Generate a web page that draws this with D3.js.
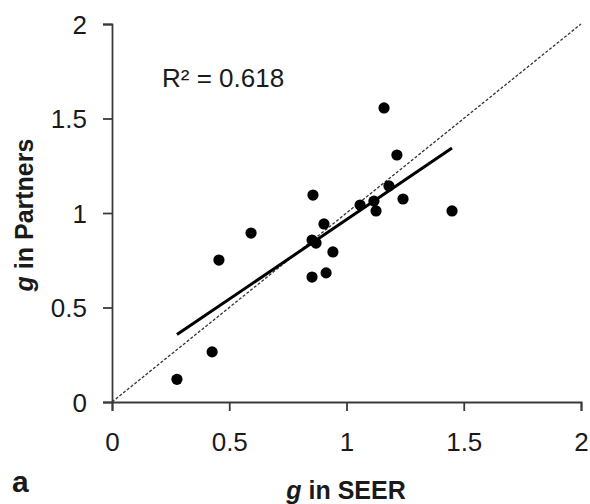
<!DOCTYPE html>
<html>
<head>
<meta charset="utf-8">
<script src="https://cdn.jsdelivr.net/npm/d3@7"></script>
<style>
	body { margin: 0; background: #fff; }
	svg { display: block; font-family: "Liberation Sans", Arial, Helvetica, sans-serif; }
	.tick text { fill: #1a1a1a; }
</style>
</head>
<body>
<svg width="590" height="504"></svg>
<script>

var seer = [0.277, 0.427, 0.456, 0.593, 0.853, 0.870, 0.853, 0.913, 0.942, 0.904,
	0.857, 1.058, 1.117, 1.126, 1.241, 1.181, 1.215, 1.160, 1.450];
var partners = [0.120, 0.265, 0.751, 0.894, 0.857, 0.841, 0.661, 0.683, 0.794, 0.942,
	1.095, 1.042, 1.063, 1.011, 1.074, 1.143, 1.307, 1.556, 1.011];

var xTicks = [0, 0.5, 1, 1.5, 2],
	yTicks = [0, 0.5, 1, 1.5, 2];

// linear fit shown in the figure
var fitSlope = 0.841, fitIntercept = 0.124, rSquared = "0.618";

// layout.......................................................................

var svg = d3.select("svg"),
	x = d3.scaleLinear().domain([0, 2]).range([112, 581]),
	y = d3.scaleLinear().domain([0, 2]).range([402, 24]),
	axisColor = "#3a3a3a";

// axes
var xAxis = svg.append("g")
	.attr("transform", "translate(0," + y(0) + ")")
	.call(d3.axisBottom(x).tickValues(xTicks).tickFormat(d3.format("")).tickSize(9).tickPadding(22));

var yAxis = svg.append("g")
	.attr("transform", "translate(" + x(0) + ",0)")
	.call(d3.axisLeft(y).tickValues(yTicks).tickFormat(d3.format("")).tickSize(9).tickPadding(16));

[xAxis, yAxis].forEach(function(a){
	a.select(".domain").attr("stroke", axisColor).attr("stroke-width", 1.8);
	a.selectAll(".tick line").attr("stroke", axisColor).attr("stroke-width", 1.8);
	a.selectAll(".tick text").style("font-size", "26px");
});
xAxis.selectAll(".tick text").attr("dy", "0.71em");
yAxis.selectAll(".tick text").attr("dy", "0.36em");

// identity line
svg.append("line")
	.attr("x1", x(0)).attr("y1", y(0))
	.attr("x2", x(2)).attr("y2", y(2))
	.attr("stroke", "#333")
	.attr("stroke-width", 1.3)
	.attr("stroke-dasharray", "3,1.8");

// regression line
var xMin = d3.min(seer), xMax = d3.max(seer);
svg.append("line")
	.attr("x1", x(xMin)).attr("y1", y(fitIntercept + fitSlope * xMin))
	.attr("x2", x(xMax)).attr("y2", y(fitIntercept + fitSlope * xMax))
	.attr("stroke", "#000")
	.attr("stroke-width", 3);

// points
svg.append("g").selectAll("circle")
	.data(seer)
	.enter().append("circle")
		.attr("cx", function(d) { return x(d); })
		.attr("cy", function(d, i) { return y(partners[i]); })
		.attr("r", 5.6)
		.attr("fill", "#000");

// texts
svg.append("text")
	.attr("x", 162).attr("y", 87)
	.style("font-size", "26px")
	.attr("fill", "#1a1a1a")
	.text("R² = " + rSquared);

var xTitle = svg.append("text")
	.attr("x", 346).attr("y", 499)
	.attr("text-anchor", "middle")
	.style("font-size", "25px")
	.style("font-weight", "bold")
	.attr("fill", "#1a1a1a");
xTitle.append("tspan").style("font-style", "italic").text("g");
xTitle.append("tspan").text(" in SEER");

var yTitle = svg.append("text")
	.attr("transform", "translate(33,215) rotate(-90)")
	.attr("text-anchor", "middle")
	.style("font-size", "25px")
	.style("font-weight", "bold")
	.attr("fill", "#1a1a1a");
yTitle.append("tspan").style("font-style", "italic").text("g");
yTitle.append("tspan").text(" in Partners");

svg.append("text")
	.attr("x", 12).attr("y", 492)
	.style("font-size", "30px")
	.style("font-weight", "bold")
	.attr("fill", "#1a1a1a")
	.text("a");
</script>
</body>
</html>
